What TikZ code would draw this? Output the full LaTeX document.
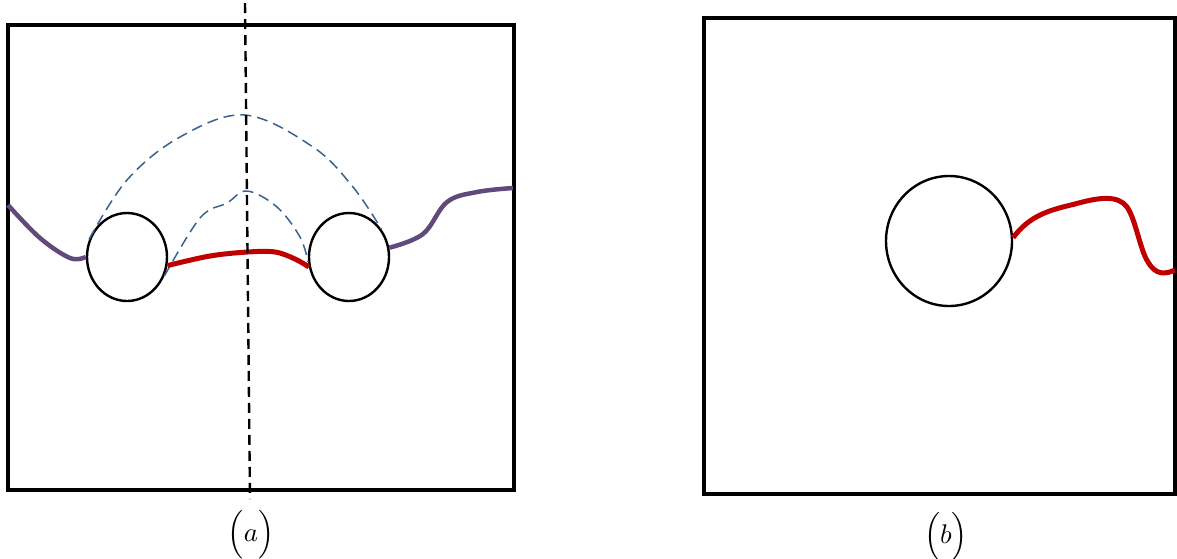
\documentclass[tikz,border=0pt]{standalone}
\usetikzlibrary{shapes.geometric}
\definecolor{curvepurple}{HTML}{604A7B}
\definecolor{curvered}{HTML}{C00000}
\definecolor{curveblue}{HTML}{3A6290}
\tikzset{
  frame/.style={line width=4.5pt, line join=miter},
  hole/.style={draw, ellipse, line width=2.4pt, inner sep=0pt},
  purplecurve/.style={curvepurple, line width=4.5pt},
  redcurve/.style={curvered, line width=5pt},
  bluecurve/.style={curveblue, line width=1.5pt, dash pattern=on 11pt off 6pt},
  axisline/.style={line width=2.4pt, dash pattern=on 10pt off 6pt},
  capstyle/.style={scale=2.7, inner sep=0pt}
}
\begin{document}
\begin{tikzpicture}[x=1pt,y=-1pt]
\useasboundingbox (0,0) rectangle (1177,558);
% frames
\draw[frame] (8,25) rectangle (514,490);
\draw[frame] (704,18) rectangle (1175,494);
% holes
\node[hole, minimum width=80pt, minimum height=88pt] (L1) at (127,257) {};
\node[hole, minimum width=80pt, minimum height=88pt] (L2) at (349,257) {};
\node[hole, minimum width=126pt, minimum height=130pt] (R1) at (949,241) {};
% free ends
\coordinate (pl) at (8,205);
\coordinate (pr) at (513,188);
\coordinate (rr) at (1175,270);
\coordinate (vt) at (245,3);
\coordinate (vb) at (250,499);
% purple curves
\draw[purplecurve] plot[smooth, tension=0.6] coordinates {(pl) (40,238) (70,258) (L1.west)};
\draw[purplecurve] plot[smooth, tension=0.6] coordinates {(L2.13) (423,234) (447,202) (477,192) (pr)};
% blue dashed
\draw[bluecurve] plot[smooth, tension=0.6] coordinates {(L1.155) (127,180) (180,137) (245,115) (313,147) (353,187) (L2.41)};
\draw[bluecurve] plot[smooth, tension=0.6] coordinates {(L1.-27) (200,218) (227,203) (247,191) (277,207) (300,237) (L2.187)};
% red curves
\draw[redcurve] plot[smooth, tension=0.6] coordinates {(L1.-12) (210,256) (248,252) (275,252) (295,259) (L2.194)};
\draw[redcurve] (R1.3) .. controls (1030,215) and (1050,210) .. (1075,204)
  .. controls (1100,197) and (1118,195) .. (1127,207)
  .. controls (1136,220) and (1140,250) .. (1148,262)
  .. controls (1156,276) and (1166,274) .. (rr);
% axis
\draw[axisline] (vt) -- (vb);
% captions
\node[capstyle] (capa) at (251,535) {$\Bigl(a\Bigr)$};
\node[capstyle] (capb) at (946,537) {$\Bigl(b\Bigr)$};
\end{tikzpicture}
\end{document}
